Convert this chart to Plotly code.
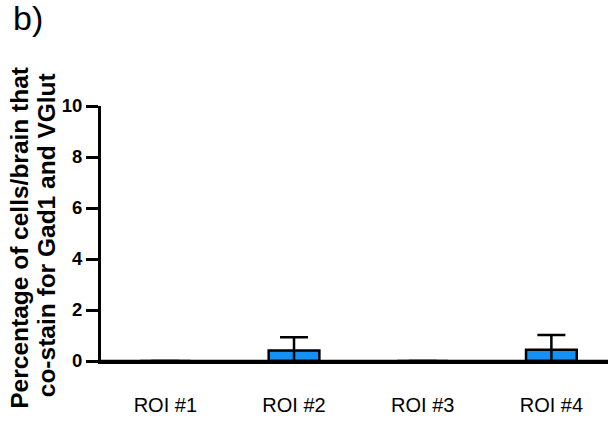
import plotly.graph_objects as go

categories = ["ROI #1", "ROI #2", "ROI #3", "ROI #4"]
means = [0.0, 0.41, 0.0, 0.44]
errors = [0.0, 0.52, 0.0, 0.58]
y_ticks = [0, 2, 4, 6, 8, 10]

W, H = 608, 421
L, R, T, B = 101, 0, 105.5, 60
PW = W - L - R
PH = H - T - B

def px_x(px):
    return (px - L) / PW

def px_y(py):
    return (H - B - py) / PH

fig = go.Figure()
fig.add_trace(go.Bar(
    x=categories, y=means, width=0.394,
    marker=dict(color="#1590F5", line=dict(color="black", width=2.5)),
    error_y=dict(type="data", array=errors, visible=True, color="black",
                 thickness=2.5, width=14),
))

# baseline at y = 0 drawn above the bars (hides zero-height bars)
fig.add_hline(y=0, line=dict(color="black", width=2.5), layer="above")

fig.update_layout(
    width=W, height=H,
    margin=dict(l=L, r=R, t=T, b=B, pad=0),
    paper_bgcolor="white", plot_bgcolor="white",
    showlegend=False,
    font=dict(family="Arial", color="black"),
    title=dict(text="b)", x=13 / W, xanchor="left", y=1 - 6 / H, yanchor="top",
               xref="container", yref="container",
               font=dict(size=34, family="Arial", color="black")),
    xaxis=dict(range=[-0.5, 3.44], showline=True, linecolor="black", linewidth=2.5,
               ticks="", showgrid=False, zeroline=False,
               tickfont=dict(size=20, family="Arial", color="black"),
               ticklabelstandoff=24),
    yaxis=dict(range=[0, 10], tickvals=y_ticks, showline=True, linecolor="black",
               linewidth=3, ticks="outside", ticklen=12, tickwidth=3, tickcolor="black",
               showgrid=False, zeroline=False,
               tickfont=dict(size=18.5, family="Arial", color="black", weight="bold")),
    annotations=[
        dict(text="Percentage of cells/brain that", xref="paper", yref="paper",
             x=px_x(19.5), y=px_y(238), textangle=-90, showarrow=False,
             xanchor="center", yanchor="middle",
             font=dict(size=24.5, family="Arial", color="black", weight="bold")),
        dict(text="co-stain for Gad1 and VGlut", xref="paper", yref="paper",
             x=px_x(46), y=px_y(235), textangle=-90, showarrow=False,
             xanchor="center", yanchor="middle",
             font=dict(size=24.5, family="Arial", color="black", weight="bold")),
    ],
)

fig.write_html("out.html")
